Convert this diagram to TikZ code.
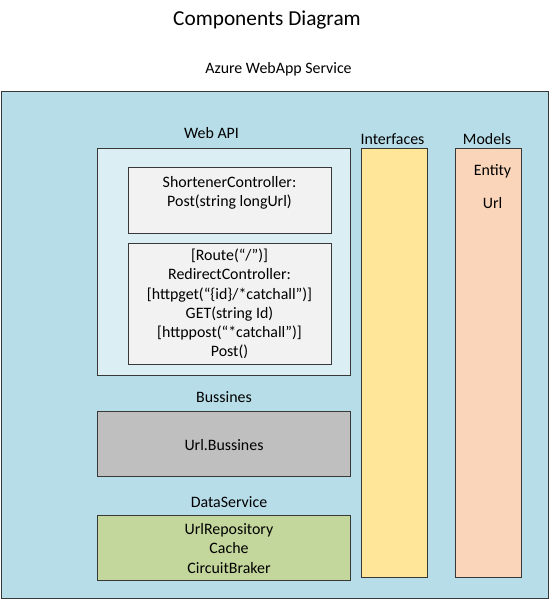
\documentclass[tikz,border=0pt]{standalone}
\usepackage{fontspec}
\setmainfont{Carlito}
\definecolor{outerblue}{HTML}{B7DDE8}
\definecolor{apiblue}{HTML}{DAEEF3}
\definecolor{ctrlgray}{HTML}{F2F2F2}
\definecolor{busgray}{HTML}{BFBFBF}
\definecolor{datagreen}{HTML}{C3D69B}
\definecolor{ifyellow}{HTML}{FFE699}
\definecolor{modpeach}{HTML}{FBD5B9}
\definecolor{edge}{HTML}{383838}
\begin{document}
\begin{tikzpicture}[x=1pt,y=-1pt,
  box/.style={draw=edge, line width=1pt, inner sep=0pt, outer sep=0pt, anchor=north west},
  txt/.style={font=\fontsize{15.9}{19.2}\selectfont, align=center, inner sep=0pt, text=black},
  ttl/.style={font=\fontsize{21.3}{25}\selectfont, inner sep=0pt}]
\useasboundingbox (0,0) rectangle (551,601);
\fill[white] (0,0) rectangle (551,601);
% boxes
\node[box, fill=outerblue, minimum width=547pt, minimum height=507pt] (outer) at (1.5,91.5) {};
\node[box, fill=apiblue, minimum width=253pt, minimum height=227pt] (webapi) at (97.5,148.5) {};
\node[box, fill=ctrlgray, minimum width=203pt, minimum height=66pt] (shortener) at (128.5,167.5) {};
\node[box, fill=ctrlgray, minimum width=203pt, minimum height=121pt] (redirect) at (128.5,243.5) {};
\node[box, fill=busgray, minimum width=253pt, minimum height=65pt] (bussines) at (97.5,411.5) {};
\node[box, fill=datagreen, minimum width=253pt, minimum height=65pt] (data) at (97.5,515.5) {};
\node[box, fill=ifyellow, minimum width=66pt, minimum height=429pt] (interfaces) at (361.5,148.5) {};
\node[box, fill=modpeach, minimum width=66pt, minimum height=429pt] (models) at (455.5,148.5) {};
% texts
\node[ttl] (title) at (267,20.5) {Components Diagram};
\node[txt] (azure) at (278.5,69.5) {Azure WebApp Service};
\node[txt] (webapilbl) at (211.5,133) {Web API};
\node[txt] (shortenertxt) at (229.5,192.5) {ShortenerController:\\Post(string longUrl)};
\node[txt] (redirecttxt) at (229.5,304) {{[}Route(“/”){]}\\RedirectController:\\{[}httpget(“\{id\}/*catchall”){]}\\GET(string Id)\\{[}httppost(“*catchall”){]}\\Post()};
\node[txt] (bussineslbl) at (224,397.5) {Bussines};
\node[txt] (bussinestxt) at (224,445) {Url.Bussines};
\node[txt] (datalbl) at (229,502.5) {DataService};
\node[txt] (datatxt) at (229,548.5) {UrlRepository\\Cache\\CircuitBraker};
\node[txt] (interfaceslbl) at (392.5,139.5) {Interfaces};
\node[txt] (modelslbl) at (487,139.5) {Models};
\node[txt] (entity) at (492.5,171) {Entity};
\node[txt] (url) at (492.5,203) {Url};
\end{tikzpicture}
\end{document}
